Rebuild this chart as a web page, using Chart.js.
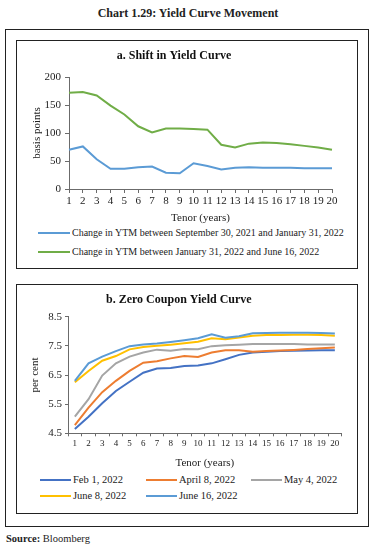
<!DOCTYPE html>
<html>
<head>
<meta charset="utf-8">
<script src="https://cdn.jsdelivr.net/npm/chart.js@4"></script>
<style>
body { margin: 0; width: 376px; height: 551px; position: relative; background: #fff; font-family: 'Liberation Serif', serif; color: #222; overflow: hidden; }
.box { position: absolute; box-sizing: border-box; border: 1.3px solid #222; }
canvas { position: absolute; }
.leg { position: absolute; height: 14px; line-height: 14px; white-space: nowrap; }
.leg i { position: absolute; top: 6px; height: 2px; }
.leg span { position: absolute; }
</style>
</head>
<body>
<div style="position:absolute;left:0;top:6px;width:376px;text-align:center;font-weight:bold;font-size:12px;">Chart 1.29: Yield Curve Movement</div>
<div class="box" style="left:5px;top:29px;width:364px;height:498px;"></div>
<div class="box" style="left:16px;top:40px;width:342px;height:229px;"></div>
<div class="box" style="left:16px;top:284px;width:342px;height:230px;"></div>
<canvas id="chartA" width="342" height="186" style="left:16px;top:40px;"></canvas>
<canvas id="chartB" width="342" height="186" style="left:16px;top:284px;"></canvas>
<div id="legendA"></div>
<div id="legendB"></div>
<div style="position:absolute;left:6px;top:533px;font-size:10.5px;"><b>Source:</b> Bloomberg</div>

<script>
// DATA
const tenorLabels = ['1','2','3','4','5','6','7','8','9','10','11','12','13','14','15','16','17','18','19','20'];

// a. shift in yield curve (basis points)
const seriesNamesA = ['Change in YTM between September 30, 2021 and January 31, 2022', 'Change in YTM between January 31, 2022 and June 16, 2022'];
const changeSepToJan = [70, 76, 53, 36, 36, 39, 40, 29, 28, 46, 41, 35, 38, 39, 38, 38, 38, 37, 37, 37];
const changeJanToJun = [172, 173, 167, 149, 133, 112, 101, 108, 108, 107, 106, 79, 74, 81, 83, 82, 80, 77, 74, 70];
const yTicksA = [0, 50, 100, 150, 200];

// b. zero coupon yield curve (per cent)
const seriesNamesB = ['Feb 1, 2022', 'April 8, 2022', 'May 4, 2022', 'June 8, 2022', 'June 16, 2022'];
const zcFeb1 = [4.65, 5.07, 5.53, 5.95, 6.27, 6.58, 6.72, 6.74, 6.81, 6.83, 6.90, 7.04, 7.19, 7.27, 7.30, 7.32, 7.33, 7.34, 7.35, 7.35];
const zcApr8 = [4.78, 5.38, 5.91, 6.30, 6.64, 6.92, 6.97, 7.07, 7.15, 7.12, 7.27, 7.35, 7.35, 7.30, 7.32, 7.34, 7.36, 7.39, 7.42, 7.44];
const zcMay4 = [5.07, 5.67, 6.48, 6.90, 7.13, 7.27, 7.37, 7.33, 7.39, 7.38, 7.49, 7.52, 7.54, 7.56, 7.56, 7.56, 7.56, 7.55, 7.55, 7.55];
const zcJun8 = [6.25, 6.64, 6.99, 7.15, 7.38, 7.46, 7.50, 7.54, 7.59, 7.64, 7.76, 7.73, 7.79, 7.85, 7.87, 7.87, 7.88, 7.88, 7.87, 7.85];
const zcJun16 = [6.30, 6.90, 7.13, 7.32, 7.49, 7.55, 7.58, 7.63, 7.69, 7.76, 7.90, 7.78, 7.83, 7.93, 7.94, 7.95, 7.95, 7.95, 7.94, 7.92];
const yTicksB = [4.5, 5.5, 6.5, 7.5, 8.5];

const coloursA = ['#5b9bd5', '#70ad47'];
const coloursB = ['#4472c4', '#ed7d31', '#a5a5a5', '#ffc000', '#5b9bd5'];
const axisColour = '#6b6b6b';

Chart.defaults.font.family = "'Liberation Serif', serif";
Chart.defaults.color = '#222';

function lineSet(label, data, colour, order) {
    return { label, data, borderColor: colour, backgroundColor: colour, borderWidth: 2, pointRadius: 0, tension: 0, fill: false, order };
}

// CHART A
new Chart(document.getElementById('chartA'), {
    type: 'line',
    data: {
        labels: tenorLabels,
        datasets: [
            lineSet(seriesNamesA[0], changeSepToJan, coloursA[0], 2),
            lineSet(seriesNamesA[1], changeJanToJun, coloursA[1], 1)
        ]
    },
    options: {
        responsive: false,
        animation: false,
        layout: { padding: { left: 0, right: 26, top: 0, bottom: 0 } },
        plugins: {
            legend: { display: false },
            tooltip: { enabled: false },
            title: { display: true, text: 'a. Shift in Yield Curve', font: { size: 12, weight: 'bold' }, color: '#111', padding: { top: 9, bottom: 13.6 } }
        },
        scales: {
            x: {
                offset: false,
                grid: { drawOnChartArea: false, tickLength: 4, color: axisColour },
                border: { color: axisColour },
                ticks: { autoSkip: false, maxRotation: 0, padding: 2, font: { size: 11 } },
                title: { display: true, text: 'Tenor (years)', font: { size: 11 }, padding: { top: 0, bottom: 1.4 } },
                afterFit: s => { s.height = 37; }
            },
            y: {
                min: 0, max: 200,
                afterBuildTicks: s => { s.ticks = yTicksA.map(v => ({ value: v })); },
                grid: { drawOnChartArea: false, tickLength: 4, color: axisColour },
                border: { color: axisColour },
                ticks: { padding: 4, font: { size: 11 } },
                title: { display: true, text: 'basis points', font: { size: 11 }, padding: { top: 15, bottom: 0 } },
                afterFit: s => { s.width = 53; }
            }
        }
    }
});

// CHART B
new Chart(document.getElementById('chartB'), {
    type: 'line',
    data: {
        labels: tenorLabels,
        datasets: [
            lineSet(seriesNamesB[0], zcFeb1, coloursB[0], 5),
            lineSet(seriesNamesB[1], zcApr8, coloursB[1], 4),
            lineSet(seriesNamesB[2], zcMay4, coloursB[2], 3),
            lineSet(seriesNamesB[3], zcJun8, coloursB[3], 2),
            lineSet(seriesNamesB[4], zcJun16, coloursB[4], 1)
        ]
    },
    options: {
        responsive: false,
        animation: false,
        layout: { padding: { left: 0, right: 16.3, top: 0, bottom: 0 } },
        plugins: {
            legend: { display: false },
            tooltip: { enabled: false },
            title: { display: true, text: 'b. Zero Coupon Yield Curve', font: { size: 12, weight: 'bold' }, color: '#111', padding: { top: 8.3, bottom: 10 } }
        },
        scales: {
            x: {
                offset: true,
                grid: { offset: true, drawOnChartArea: false, tickLength: 3, color: axisColour },
                border: { color: axisColour },
                ticks: { autoSkip: false, maxRotation: 0, padding: 2, font: { size: 9 } },
                title: { display: true, text: 'Tenor (years)', font: { size: 11 }, padding: { top: 0, bottom: 0.7 } },
                afterFit: s => { s.height = 36.7; }
            },
            y: {
                min: 4.5, max: 8.5,
                afterBuildTicks: s => { s.ticks = yTicksB.map(v => ({ value: v })); },
                grid: { drawOnChartArea: false, tickLength: 3, color: axisColour },
                border: { color: axisColour },
                ticks: { padding: 3, font: { size: 11 }, callback: v => v.toFixed(1) },
                title: { display: true, text: 'per cent', font: { size: 11 }, padding: { top: 13, bottom: 0 } },
                afterFit: s => { s.width = 52; }
            }
        }
    }
});

// LEGENDS
function addLegend(holderId, items, fontSize) {
    let html = '';
    items.forEach(it => {
        html += `<div class="leg" style="left:${it.x}px;top:${it.y - 7}px;font-size:${fontSize}px;">` +
            `<i style="left:0;width:${it.w}px;background:${it.colour};"></i>` +
            `<span style="left:${it.w + 2}px;">${it.text}</span></div>`;
    });
    document.getElementById(holderId).innerHTML = html;
}

addLegend('legendA', [
    { x: 38, y: 233, w: 32, colour: coloursA[0], text: seriesNamesA[0] },
    { x: 38, y: 252, w: 32, colour: coloursA[1], text: seriesNamesA[1] }
], 10);

addLegend('legendB', [
    { x: 40, y: 480, w: 31, colour: coloursB[0], text: seriesNamesB[0] },
    { x: 146, y: 480, w: 31, colour: coloursB[1], text: seriesNamesB[1] },
    { x: 251, y: 480, w: 31, colour: coloursB[2], text: seriesNamesB[2] },
    { x: 40, y: 496, w: 31, colour: coloursB[3], text: seriesNamesB[3] },
    { x: 146, y: 496, w: 31, colour: coloursB[4], text: seriesNamesB[4] }
], 10.5);
</script>
</body>
</html>
